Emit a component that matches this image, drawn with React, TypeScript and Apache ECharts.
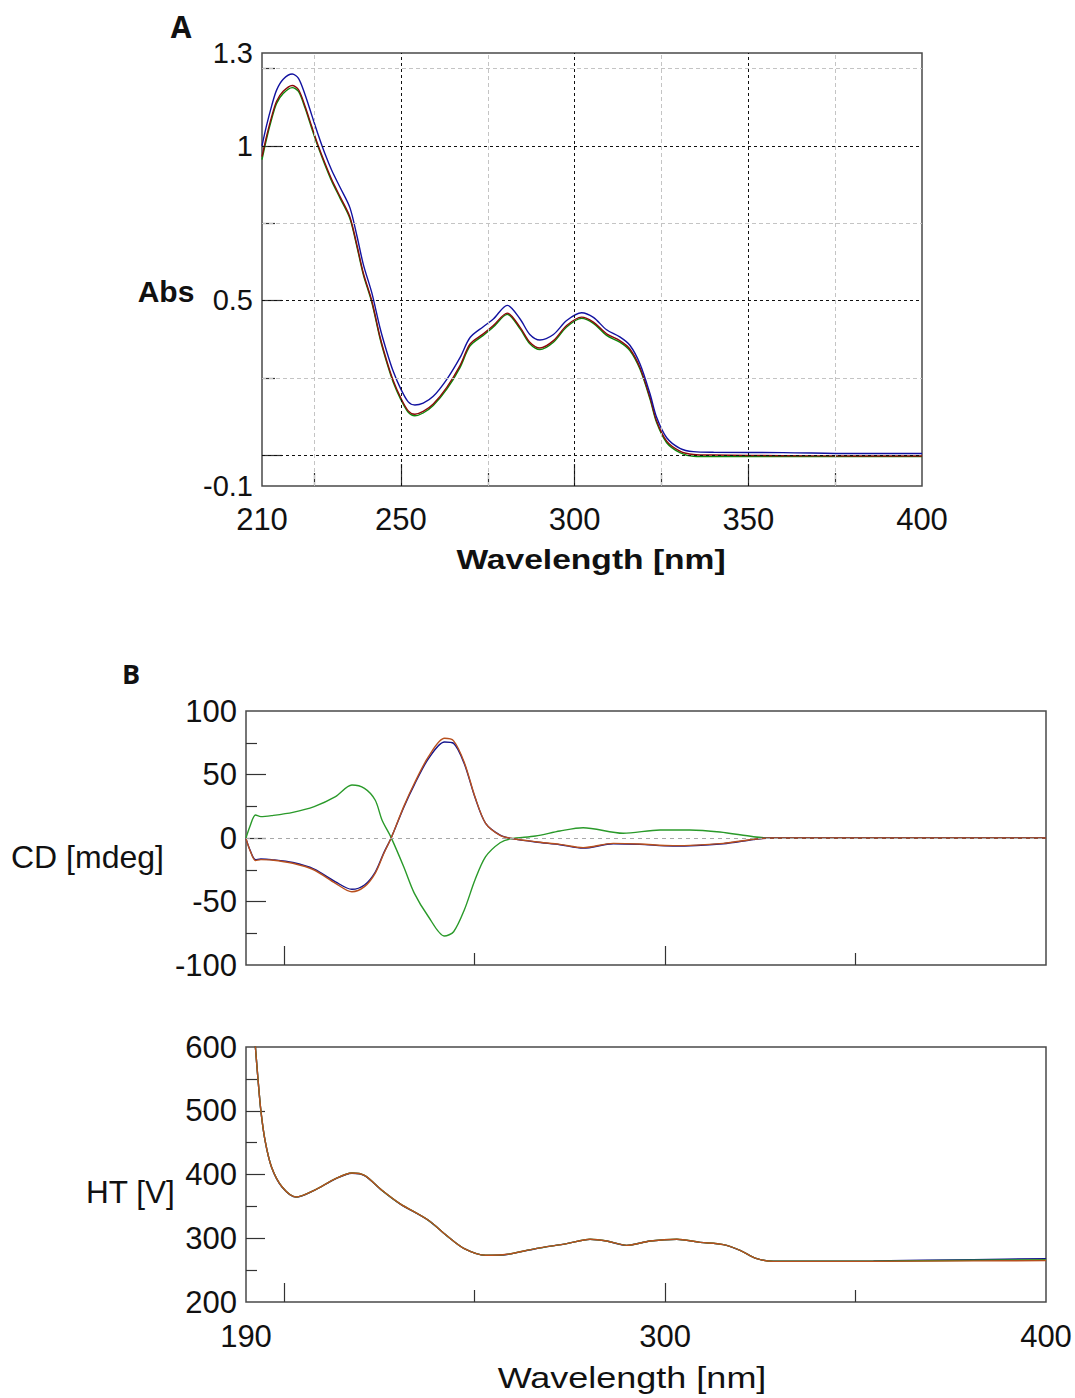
import React, { useEffect, useRef } from "react";
import * as echarts from "echarts";

// ---------- Panel A : absorbance ----------
const absNm = [210, 211.3, 212.8, 214.2, 216.1, 218.7, 220.5, 222.4, 224.3, 226.2, 228.1, 230.1, 232.5, 235.3, 237.3, 239.2, 241.6, 244, 245.9, 247.8, 249.9, 252.1, 254, 256.4, 259.3, 263.2, 267, 269.9, 273.7, 276.6, 280.6, 284.3, 287.1, 290, 293.9, 297.7, 302, 305.4, 309.2, 313, 315.9, 318.8, 321.7, 323.6, 326.5, 330.3, 334.2, 340, 360, 380, 400];
const absRed = [0.965, 1.03, 1.095, 1.144, 1.176, 1.195, 1.182, 1.128, 1.063, 1.0, 0.944, 0.89, 0.835, 0.77, 0.68, 0.587, 0.499, 0.381, 0.305, 0.24, 0.186, 0.143, 0.132, 0.141, 0.165, 0.219, 0.289, 0.359, 0.392, 0.419, 0.459, 0.413, 0.365, 0.346, 0.37, 0.419, 0.446, 0.43, 0.392, 0.37, 0.343, 0.283, 0.186, 0.11, 0.045, 0.013, 0.002, 0.0, -0.002, -0.003, -0.003];
const absBlue = [1.0, 1.065, 1.13, 1.18, 1.215, 1.232, 1.218, 1.165, 1.1, 1.035, 0.975, 0.92, 0.865, 0.8, 0.71, 0.615, 0.525, 0.41, 0.335, 0.27, 0.215, 0.172, 0.162, 0.168, 0.19, 0.245, 0.315, 0.38, 0.415, 0.44, 0.484, 0.44, 0.39, 0.372, 0.39, 0.435, 0.46, 0.445, 0.405, 0.382, 0.355, 0.295, 0.198, 0.122, 0.056, 0.022, 0.011, 0.009, 0.008, 0.005, 0.005];
const absGreen = [0.955, 1.022, 1.087, 1.137, 1.169, 1.188, 1.176, 1.122, 1.057, 0.995, 0.939, 0.885, 0.83, 0.765, 0.675, 0.582, 0.494, 0.376, 0.3, 0.235, 0.181, 0.138, 0.127, 0.136, 0.16, 0.213, 0.283, 0.353, 0.387, 0.414, 0.455, 0.408, 0.36, 0.341, 0.365, 0.414, 0.442, 0.426, 0.387, 0.365, 0.338, 0.278, 0.181, 0.105, 0.04, 0.008, -0.004, -0.005, -0.005, -0.005, -0.005];

const absXLabels = [210, 250, 300, 350, 400];
const absXMajor = [250, 300, 350];
const absXMinor = [225, 275, 325, 375];
const absYLabels = [-0.1, 0.5, 1, 1.3];
const absYMajor = [0, 0.5, 1];
const absYMinor = [0.25, 0.75, 1.25];

// ---------- Panel B : CD ----------
const cdNm = [190, 191, 192.5, 193.9, 196.7, 202.3, 207.9, 213.5, 217.8, 221.1, 223.9, 226.2, 228.1, 231.4, 234.2, 237.9, 242.1, 244.5, 247.3, 250.1, 252.9, 256.7, 259.5, 266, 272.4, 278.5, 286.4, 293.4, 302.1, 315.3, 323.2, 327.5, 340, 360, 380, 400];
const cdRed = [-0.5, -9.4, -17.8, -17, -17.3, -19.9, -25.2, -35.7, -42.3, -38.3, -27.8, -12, 0, 24.7, 43.1, 64, 78.5, 76.5, 59.5, 32.5, 11.6, 2.1, -0.2, -2.9, -5, -7.6, -4.2, -4.7, -6, -4.2, -1, 0, 0, 0, 0, 0];
const cdBlue = [-0.5, -9, -17, -16.5, -17, -19.3, -24.5, -34.5, -40.4, -37, -27, -11.5, 0, 24, 42, 62.5, 75.6, 74.5, 58.5, 32, 11.5, 2.2, -0.3, -3.2, -5.3, -8, -4.5, -5, -6.3, -4.5, -1.2, 0, 0, 0, 0, 0];
const cdGreenNm = [190, 191, 192.5, 193.9, 196.7, 202.3, 207.9, 213.5, 217.8, 221.1, 223.9, 225.7, 228.1, 231.4, 234.2, 237.9, 242.1, 244.5, 247.3, 250.1, 252.9, 256.7, 259.5, 266, 272.4, 278.5, 289, 298.7, 306.5, 314.4, 323.2, 327.5, 340, 360, 380, 400];
const cdGreen = [0, 8.9, 18.1, 16.8, 17.6, 20.2, 24.7, 32.5, 41.7, 39.1, 29.9, 14.2, 0.3, -22.6, -43.6, -62, -77.2, -73.8, -56.7, -33.1, -14.7, -3.7, -0.6, 1.6, 5.5, 8.1, 3.7, 6.3, 6.3, 4.7, 1, 0, 0, 0, 0, 0];

const cdYLabels = [-100, -50, 0, 50, 100];
const cdYMajor = [-50, 0, 50];
const cdYMinor = [-75, -25, 25, 75];
const cdZero = [0];

// ---------- Panel B : HT ----------
const htNm = [192.4, 193.1, 193.9, 195, 196.7, 199.5, 203.2, 207.9, 213.5, 217.8, 221.1, 225.7, 230.4, 237.9, 242.6, 247.3, 252.9, 258.5, 266, 274.2, 280.3, 284.7, 289.9, 296.1, 303.1, 309.2, 315.3, 319.7, 324.1, 328.4, 354.7, 380.9, 400];
const htRed = [605, 553, 500.7, 453.6, 411.8, 380.4, 364.7, 375.2, 393.6, 402.4, 398.7, 375.2, 354.4, 328.2, 304.6, 283.8, 273.3, 274.8, 283.8, 291.6, 298.4, 295.7, 288.9, 295.7, 298.4, 293.6, 290, 281.1, 268, 263.8, 263.8, 264.5, 265];
const htBlue = [605, 553, 500, 453, 411.5, 380, 364.5, 375, 393.2, 402, 398.3, 375, 354, 328, 304.4, 283.6, 273.2, 274.6, 283.6, 291.5, 298.3, 295.6, 288.8, 295.6, 298.3, 293.5, 290, 281, 268, 264, 264.5, 266.5, 268];
const htGreen = [605, 553, 500.5, 453.4, 411.7, 380.3, 364.6, 375.1, 393.5, 402.3, 398.6, 375.1, 354.3, 328.1, 304.5, 283.7, 273.3, 274.7, 283.7, 291.6, 298.4, 295.7, 288.9, 295.7, 298.4, 293.6, 290, 281.1, 268, 263.9, 264, 265.5, 266.5];
const htYLabels = [200, 300, 400, 500, 600];
const htYMajor = [300, 400, 500];
const htYMinor = [250, 350, 450, 550];

const bXLabels = [190, 300, 400];
const bXMajor = [200, 300];
const bXMinor = [250, 350];

const FONT = "'Liberation Sans', Arial, sans-serif";
const pair = (xs: number[], ys: number[]) => xs.map((x, i) => [x, ys[i]]);

function axis(gridIndex: number, min: number, max: number, position: string, ticks: number[], tickLen: number, labels: number[] | null, labelSize: number, margin: number) {
  return {
    type: "value",
    gridIndex,
    min,
    max,
    position,
    axisLine: { show: false, onZero: false },
    splitLine: { show: false },
    axisTick: { show: true, inside: true, length: tickLen, customValues: ticks, lineStyle: { color: "#333", width: 1.2 } },
    axisLabel: labels
      ? { show: true, customValues: labels, fontSize: labelSize, fontFamily: FONT, color: "#111", margin, showMinLabel: true, showMaxLabel: true }
      : { show: false },
  };
}

function gridLines(values: number[], dim: "xAxis" | "yAxis", color: string, dash: number[]) {
  return values.map((v) => ({ [dim]: v, lineStyle: { color, type: dash, width: 1 } }));
}

function line(name: string, x: number, y: number, data: number[][], color: string, z = 3) {
  return {
    type: "line",
    name,
    xAxisIndex: x,
    yAxisIndex: y,
    data,
    smooth: 0.3,
    showSymbol: false,
    symbol: "none",
    z,
    lineStyle: { color, width: 1.4 },
  };
}

export default function App() {
  const ref = useRef<HTMLDivElement>(null);
  useEffect(() => {
    document.body.style.margin = "0";
    const chart = echarts.init(ref.current!, undefined, { renderer: "svg" });
    const gridBase = { show: true, borderColor: "#4a4a4a", borderWidth: 1.5, backgroundColor: "transparent", containLabel: false };
    const option: any = {
      animation: false,
      backgroundColor: "#fff",
      grid: [
        { ...gridBase, left: 262, top: 53, width: 660, height: 433 },
        { ...gridBase, left: 246, top: 711, width: 800, height: 254 },
        { ...gridBase, left: 246, top: 1047, width: 800, height: 255 },
      ],
      xAxis: [
        axis(0, 210, 400, "bottom", absXMajor, 22, absXLabels, 31, 18),
        axis(0, 210, 400, "bottom", absXMinor, 13, null, 0, 0),
        axis(1, 190, 400, "bottom", bXMajor, 19, null, 0, 0),
        axis(1, 190, 400, "bottom", bXMinor, 12, null, 0, 0),
        axis(2, 190, 400, "bottom", bXMajor, 19, bXLabels, 31, 19),
        axis(2, 190, 400, "bottom", bXMinor, 12, null, 0, 0),
      ],
      yAxis: [
        axis(0, -0.1, 1.3, "left", absYMajor, 20, absYLabels, 29, 9),
        axis(0, -0.1, 1.3, "left", absYMinor, 13, null, 0, 0),
        axis(1, -100, 100, "left", cdYMajor, 20, cdYLabels, 31, 9),
        axis(1, -100, 100, "left", cdYMinor, 11, null, 0, 0),
        axis(2, 200, 600, "left", htYMajor, 19, htYLabels, 31, 9),
        axis(2, 200, 600, "left", htYMinor, 11, null, 0, 0),
      ],
      series: [
        {
          type: "line",
          xAxisIndex: 0,
          yAxisIndex: 0,
          data: [],
          z: 1,
          silent: true,
          markLine: {
            silent: true,
            symbol: ["none", "none"],
            label: { show: false },
            data: [
              ...gridLines(absYMinor, "yAxis", "#c4c4c4", [4, 3]),
              ...gridLines(absXMinor, "xAxis", "#c4c4c4", [4, 3]),
              ...gridLines(absYMajor, "yAxis", "#111", [3, 3]),
              ...gridLines(absXMajor, "xAxis", "#111", [3, 3]),
            ],
          },
        },
        {
          type: "line",
          xAxisIndex: 2,
          yAxisIndex: 2,
          data: [],
          z: 1,
          silent: true,
          markLine: {
            silent: true,
            symbol: ["none", "none"],
            label: { show: false },
            data: gridLines(cdZero, "yAxis", "#a8a8a8", [4, 4]),
          },
        },
        line("Green", 0, 0, pair(absNm, absGreen), "#0a8a0a"),
        line("Red", 0, 0, pair(absNm, absRed), "#8b0a0a"),
        line("Blue", 0, 0, pair(absNm, absBlue), "#1212a0"),
        line("Green", 2, 2, pair(cdGreenNm, cdGreen), "#2a9a2a"),
        line("Blue", 2, 2, pair(cdNm, cdBlue), "#14148c"),
        line("Red", 2, 2, pair(cdNm, cdRed), "#b8501e"),
        line("Blue", 4, 4, pair(htNm, htBlue), "#14148c"),
        line("Green", 4, 4, pair(htNm, htGreen), "#2a9a2a"),
        line("Red", 4, 4, pair(htNm, htRed), "#b8501e"),
      ],
      graphic: [
        { type: "text", x: 181, y: 26, style: { text: "A", fontFamily: "'Open Sans', sans-serif", fontWeight: "bold", fontSize: 30, fill: "#111", align: "center", verticalAlign: "middle" } },
        { type: "text", x: 131, y: 673, style: { text: "B", fontFamily: "'Open Sans', sans-serif", fontWeight: "bold", fontSize: 27, fill: "#111", align: "center", verticalAlign: "middle" } },
        { type: "text", x: 166, y: 291, style: { text: "Abs", fontFamily: FONT, fontWeight: "bold", fontSize: 30, fill: "#111", align: "center", verticalAlign: "middle" } },
        { type: "text", x: 591, y: 559, scaleX: 1.2, style: { text: "Wavelength [nm]", fontFamily: FONT, fontWeight: "bold", fontSize: 28, fill: "#111", align: "center", verticalAlign: "middle" } },
        { type: "text", x: 11, y: 857, style: { text: "CD [mdeg]", fontFamily: FONT, fontSize: 32, fill: "#111", align: "left", verticalAlign: "middle" } },
        { type: "text", x: 86, y: 1192, style: { text: "HT [V]", fontFamily: FONT, fontSize: 31.5, fill: "#111", align: "left", verticalAlign: "middle" } },
        { type: "text", x: 632, y: 1378, scaleX: 1.2, style: { text: "Wavelength [nm]", fontFamily: FONT, fontSize: 30, fill: "#111", align: "center", verticalAlign: "middle" } },
      ],
    };
    chart.setOption(option);
    return () => chart.dispose();
  }, []);
  return <div ref={ref} style={{ width: 1075, height: 1398 }} />;
}
